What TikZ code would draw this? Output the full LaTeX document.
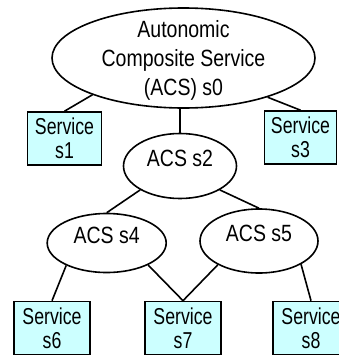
\documentclass[tikz,border=0pt]{standalone}
\usepackage{fontspec}
\setmainfont{Liberation Sans}
\newfontfamily\ellfont[FakeStretch=0.83]{Liberation Sans}
\newfontfamily\boxfont[FakeStretch=0.77]{Liberation Sans}
\usetikzlibrary{shapes.geometric}
\definecolor{svcfill}{HTML}{CCFFFF}

\begin{document}
\begin{tikzpicture}[x=1pt,y=-1pt,
  conn/.style={line width=1.6pt},
  acs/.style={ellipse, draw, line width=1.6pt, fill=white, inner sep=0pt,
    font=\ellfont\fontsize{23.5}{29}\selectfont, align=center, text depth=15pt},
  svc/.style={rectangle, draw, line width=1.6pt, fill=svcfill, inner sep=0pt,
    minimum width=75pt, minimum height=53pt,
    font=\boxfont\fontsize{23}{24}\selectfont, align=center}]
\useasboundingbox (0,0) rectangle (339,356);

% composite services (ellipses)
\node[acs, text depth=0pt, inner ysep=-5pt, minimum width=263pt, minimum height=100pt]
  (s0) at (183.5,58) {Autonomic\\Composite Service\\(ACS) s0};
\node[acs, minimum width=113pt, minimum height=65pt] (s2) at (180,166) {ACS s2};
\node[acs, minimum width=119pt, minimum height=59pt] (s4) at (106.7,243) {ACS s4};
\node[acs, minimum width=118pt, minimum height=64pt] (s5) at (259,241) {ACS s5};

% atomic services (boxes)
\node[svc, minimum width=74pt] (s1) at (64.5,138.5) {Service\\s1};
\node[svc, minimum width=72pt] (s3) at (300.5,137.5) {Service\\s3};
\node[svc, minimum width=76pt] (s6) at (52,328) {Service\\s6};
\node[svc, minimum width=76pt] (s7) at (183,328) {Service\\s7};
\node[svc, minimum width=76pt] (s8) at (311,328) {Service\\s8};

% connectors
\draw[conn] (s0.202) -- (s1.north);
\draw[conn] (s0.335) -- (s3.north);
\draw[conn] (s2.north) -- (s2.north |- s0.south);
\draw[conn] (s2.211) -- (s4.north);
\draw[conn] (s2.329) -- (s5.north);
\draw[conn] (s4.209) -- (s6.north);
\draw[conn] (s4.332) -- (s7.north);
\draw[conn] (s5.210) -- (s7.north);
\draw[conn] (s5.331) -- (s8.north);
\end{tikzpicture}
\end{document}
